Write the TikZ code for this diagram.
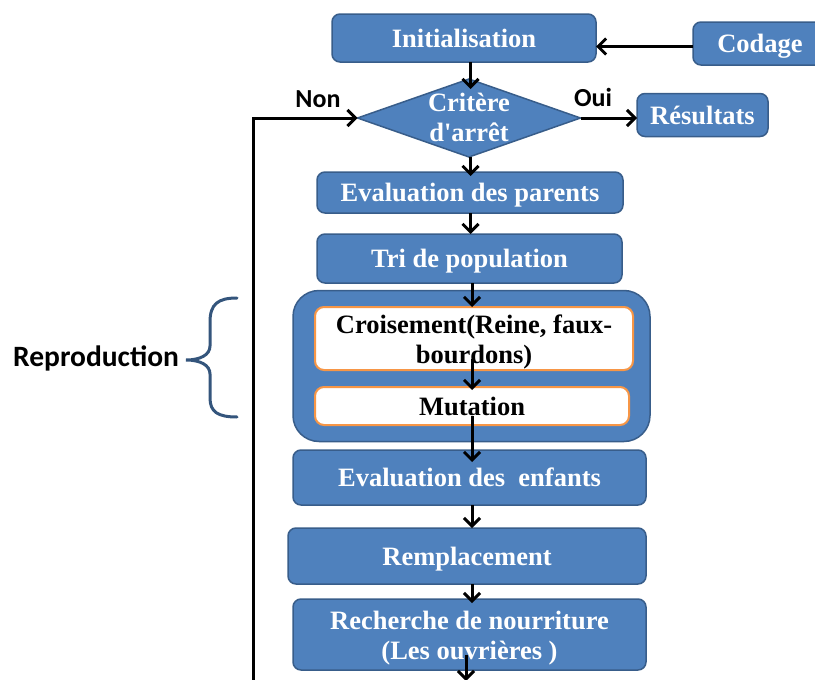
\documentclass[tikz,border=0pt]{standalone}
\usepackage{fontspec}
\setmainfont{Liberation Serif}
\newfontfamily\labelfont{Carlito}
\usetikzlibrary{arrows.meta,shapes.geometric}
\definecolor{boxblue}{HTML}{4F81BD}
\definecolor{boxedge}{HTML}{385D8A}
\definecolor{accent}{HTML}{F79646}
\definecolor{bracecol}{HTML}{34557C}
% two-line box text, first baseline as reference point
\newcommand{\twolines}[2]{\begin{tabular}[t]{@{}c@{}}#1\\#2\end{tabular}}

\begin{document}
\begin{tikzpicture}[x=1pt,y=-1pt,
  every node/.style={inner sep=0pt, outer sep=0pt},
  boxtext/.style={font=\fontsize{26.5}{30}\selectfont\bfseries},
  oneline/.style={text height=18pt, text depth=0pt},
  twoline/.style={text height=20pt, text depth=32.5pt},
  stepbox/.style={boxtext, draw=boxedge, line width=1.5pt, fill=boxblue,
    rounded corners=8pt, text=white},
  inbox/.style={boxtext, draw=accent, line width=2pt, fill=white,
    rounded corners=9pt, text=black},
  groupbox/.style={draw=boxedge, line width=1.5pt, fill=boxblue, rounded corners=26pt},
  decision/.style={diamond, draw=boxedge, line width=1.5pt, fill=boxblue},
  flowlabel/.style={font=\labelfont\fontsize{26}{30}\selectfont\bfseries},
  arr/.style={line width=3pt, -{Straight Barb[length=8pt,width=16pt,line width=3pt]}},
  bracestyle/.style={draw=bracecol, line width=3pt, line cap=round}
]
\useasboundingbox (0,0) rectangle (815,680);
\clip (0,0) rectangle (815,680);

% main chain
\node[stepbox, oneline, minimum width=264pt, minimum height=48pt] (init) at (464,38) {Initialisation};
\node[stepbox, oneline, minimum width=134pt, minimum height=43pt] (codage) at (760,43.5) {Codage};
\node[decision, minimum width=223pt, minimum height=78pt, aspect=2.9] (crit) at (469,118) {};
\node[boxtext, twoline, text=white] (crittext) at (crit.center) {\twolines{Critère}{d\textquotesingle arrêt}};
\node[stepbox, oneline, minimum width=131pt, minimum height=43pt] (res) at (702.5,115) {Résultats};
\node[stepbox, oneline, minimum width=306pt, minimum height=41pt] (evalp) at (470,192.5) {Evaluation des parents};
\node[stepbox, oneline, minimum width=305pt, minimum height=49pt] (tri) at (469.5,258.5) {Tri de population};

% reproduction group
\node[groupbox, minimum width=357pt, minimum height=151pt] (repro) at (471.5,366) {};
\node[inbox, twoline, text depth=30pt, minimum width=318pt, minimum height=63pt] (crois) at (474,338.5) {\twolines{Croisement(Reine, faux-}{bourdons)}};
\node[inbox, oneline, minimum width=314pt, minimum height=38pt] (mut) at (472,406) {Mutation};

\node[stepbox, oneline, minimum width=353pt, minimum height=55pt] (evale) at (469.5,477.5) {Evaluation des\ \ enfants};
\node[stepbox, oneline, minimum width=358pt, minimum height=56pt] (remp) at (467,556) {Remplacement};
\node[stepbox, twoline, text depth=30pt, minimum width=353pt, minimum height=71pt] (rech) at (469.5,634.5) {\twolines{Recherche de nourriture}{(Les ouvrières )}};

% loop line and outgoing end
\coordinate (loopbot) at (253,690);
\coordinate (rechout) at (466,681);

% connectors
\draw[arr] ([yshift=-3pt]codage.west) -- ([yshift=-3pt]init.east |- codage.west);
\draw[arr] ([xshift=1.5pt]init.south -| crit.north) -- ([xshift=1.5pt,yshift=-10pt]crit.north);
\draw[arr] (crit.east) -- (res.west |- crit.east);
\draw[arr] ([xshift=1.5pt]crit.south) -- ([xshift=1.5pt,yshift=-4pt]evalp.north -| crit.south);
\draw[arr] ([xshift=1.5pt]evalp.south -| crit.south) -- ([xshift=1.5pt]tri.north -| crit.south);
\draw[arr] (tri.south -| mut.north) -- (crois.north -| mut.north);
\draw[arr] ([yshift=-20pt]crois.center -| mut.north) -- ([yshift=-3pt]mut.north);
\draw[arr] ([yshift=-10pt]mut.center) -- ([yshift=-12pt]evale.north -| mut.center);
\draw[arr] (evale.south -| mut.center) -- (remp.north -| mut.center);
\draw[arr] (remp.south -| mut.center) -- ([yshift=-4pt]rech.north -| mut.center);
\draw[arr] ([yshift=-20pt]rech.center -| rechout) -- (rechout);
\draw[arr] (loopbot) |- (crit.west);

% branch labels
\node[flowlabel] (non) at (318,99) {Non};
\node[flowlabel] (oui) at (593,97) {Oui};

% brace for the reproduction stage
\draw[bracestyle] (237,298) .. controls (218,298) and (210,304) .. (210,322)
  -- (210,346) .. controls (210,355) and (200,360) .. (186,360)
  .. controls (200,360) and (210,365) .. (210,374)
  -- (210,398) .. controls (210,412) and (218,417) .. (237,417);
\node[font=\labelfont\fontsize{29.5}{34}\selectfont\bfseries, anchor=east] (reprolabel) at (179,358) {Reproduction};
\end{tikzpicture}
\end{document}
